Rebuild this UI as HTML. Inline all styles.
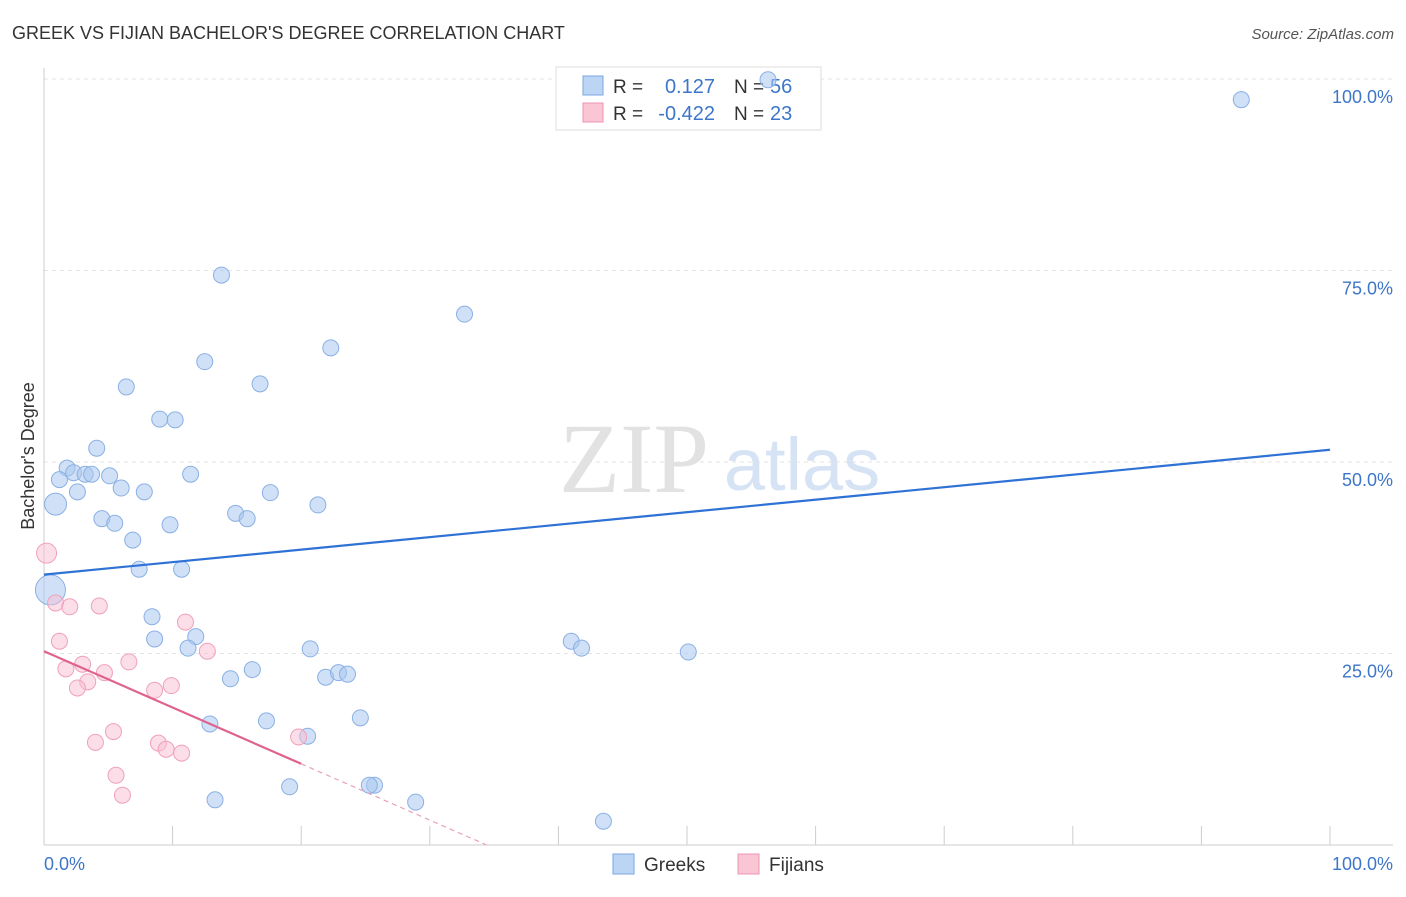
<!DOCTYPE html>
<html><head><meta charset="utf-8"><style>
body{margin:0;background:#fff;font-family:"Liberation Sans",sans-serif}
</style></head><body>
<svg id="c" width="1406" height="892" xmlns="http://www.w3.org/2000/svg">
<text x="12" y="39" font-size="18" fill="#333">GREEK VS FIJIAN BACHELOR'S DEGREE CORRELATION CHART</text>
<text x="1394" y="39" font-size="15" fill="#555" font-style="italic" text-anchor="end">Source: ZipAtlas.com</text>
<text x="634" y="492" font-size="100" font-family="Liberation Serif,serif" fill="#e2e2e2" text-anchor="middle">ZIP</text>
<text x="802" y="490" font-size="74" fill="#d5e3f5" text-anchor="middle">atlas</text>
<g id="grid"></g><g id="axes"></g>
<g>
<rect x="556" y="67" width="265" height="63" fill="#fff" stroke="#ddd"/>
<rect x="583" y="76" width="20" height="19" fill="#bcd5f5" stroke="#7aa6e0"/>
<rect x="583" y="103" width="20" height="19" fill="#fac6d6" stroke="#ec94b0"/>
<text x="613" y="93" font-size="19" fill="#333">R =</text><text x="715" y="93" font-size="20" fill="#3d76c9" text-anchor="end">0.127</text>
<text x="734" y="93" font-size="19" fill="#333">N =</text><text x="770" y="93" font-size="20" fill="#3d76c9">56</text>
<text x="613" y="120" font-size="19" fill="#333">R =</text><text x="715" y="120" font-size="20" fill="#3d76c9" text-anchor="end">-0.422</text>
<text x="734" y="120" font-size="19" fill="#333">N =</text><text x="770" y="120" font-size="20" fill="#3d76c9">23</text>
</g>
<g id="pts"></g><g id="trend"></g>
<text transform="translate(34,456) rotate(-90)" font-size="18" fill="#333" text-anchor="middle">Bachelor's Degree</text>
<text x="44" y="870" font-size="18" fill="#3d76c9">0.0%</text>
<text x="1393" y="870" font-size="18" fill="#3d76c9" text-anchor="end">100.0%</text>
<g>
<rect x="613" y="854" width="21" height="20" fill="#bcd5f5" stroke="#7aa6e0"/><text x="644" y="871" font-size="19" fill="#333">Greeks</text>
<rect x="738" y="854" width="21" height="20" fill="#fac6d6" stroke="#ec94b0"/><text x="769" y="871" font-size="19" fill="#333">Fijians</text>
</g>
</svg>
<script>
const yTicks=[25,50,75,100];
const yTickLabels=["25.0%","50.0%","75.0%","100.0%"];
const xTicks=[10,20,30,40,50,60,70,80,90,100];
const greekX=[56.3,93.1,13.8,32.7,22.3,12.5,6.4,16.8,9.0,10.2,4.1,1.8,1.2,2.3,3.2,3.7,5.1,6.0,7.8,2.6,11.4,0.9,17.6,21.3,14.9,15.8,4.5,5.5,9.8,6.9,7.4,10.7,0.5,8.4,8.6,11.8,11.2,41.0,41.8,50.1,20.7,16.2,14.5,21.9,22.9,23.6,24.6,12.9,17.3,20.5,25.7,25.3,19.1,13.3,28.9,43.5];
const greekY=[99.9,97.3,74.4,69.3,64.9,63.1,59.8,60.2,55.6,55.5,51.8,49.2,47.7,48.6,48.4,48.4,48.2,46.6,46.1,46.1,48.4,44.5,46.0,44.4,43.3,42.6,42.6,42.0,41.8,39.8,36.0,36.0,33.3,29.8,26.9,27.2,25.7,26.6,25.7,25.2,25.6,22.9,21.7,21.9,22.5,22.3,16.6,15.8,16.2,14.2,7.8,7.8,7.6,5.9,5.6,3.1];
const fijiX=[0.2,0.9,2.0,4.3,1.2,11.0,12.7,1.7,3.0,3.4,2.6,4.7,6.6,8.6,9.9,4.0,5.4,8.9,9.5,10.7,5.6,19.8,6.1];
const fijiY=[38.1,31.6,31.1,31.2,26.6,29.1,25.3,23.0,23.6,21.3,20.5,22.5,23.9,20.2,20.8,13.4,14.8,13.3,12.5,12.0,9.1,14.1,6.5];
const greekTrend=[35.3,51.6];
const fijiTrend=[25.3,-0.735];
const X=v=>44+v*12.86, Y=v=>845-v*7.66;
const NS="http://www.w3.org/2000/svg";
function mk(p,t,a){const e=document.createElementNS(NS,t);for(const k in a)e.setAttribute(k,a[k]);document.getElementById(p).appendChild(e);return e;}
yTicks.forEach((t,i)=>{
 const l=mk('grid','line',{x1:44,x2:1393,y1:Y(t),y2:Y(t),stroke:'#e3e3e3','stroke-dasharray':'4,4'});
 
 
 const tx=mk('grid','text',{x:1393,y:Y(t)+24,'font-size':18,fill:'#3d76c9','text-anchor':'end'});tx.textContent=yTickLabels[i];
 
 
});
let a=mk('axes','line',{x1:44,x2:44,y1:68,y2:845,stroke:'#ccc'});


a=mk('axes','line',{x1:44,x2:1393,y1:845,y2:845,stroke:'#ccc'});


xTicks.forEach(t=>{const l=mk('axes','line',{x1:X(t),x2:X(t),y1:826,y2:845,stroke:'#ccc'});
 
 });
greekX.forEach((v,i)=>{const r=(i==32)?15:(i==21?11:8);
 const c=mk('pts','circle',{cx:X(v),cy:Y(greekY[i]),r:r,fill:'rgba(170,200,240,0.55)',stroke:'#8ab0e4'});
 
 });
fijiX.forEach((v,i)=>{const r=(i==0)?10:8;
 const c=mk('pts','circle',{cx:X(v),cy:Y(fijiY[i]),r:r,fill:'rgba(248,190,210,0.5)',stroke:'#f0a0bc'});
 
 });
let t=mk('trend','line',{x1:X(0),y1:Y(greekTrend[0]),x2:X(100),y2:Y(greekTrend[1]),stroke:'#2f72d6','stroke-width':2.2});


const fe=-fijiTrend[0]/fijiTrend[1];
t=mk('trend','line',{x1:X(0),y1:Y(fijiTrend[0]),x2:X(20),y2:Y(fijiTrend[0]+20*fijiTrend[1]),stroke:'#e0628e','stroke-width':2.2});


t=mk('trend','line',{x1:X(20),y1:Y(fijiTrend[0]+20*fijiTrend[1]),x2:X(fe),y2:Y(0),stroke:'#eaa0ba','stroke-width':1.2,'stroke-dasharray':'5,4'});


</script>
</body></html>
